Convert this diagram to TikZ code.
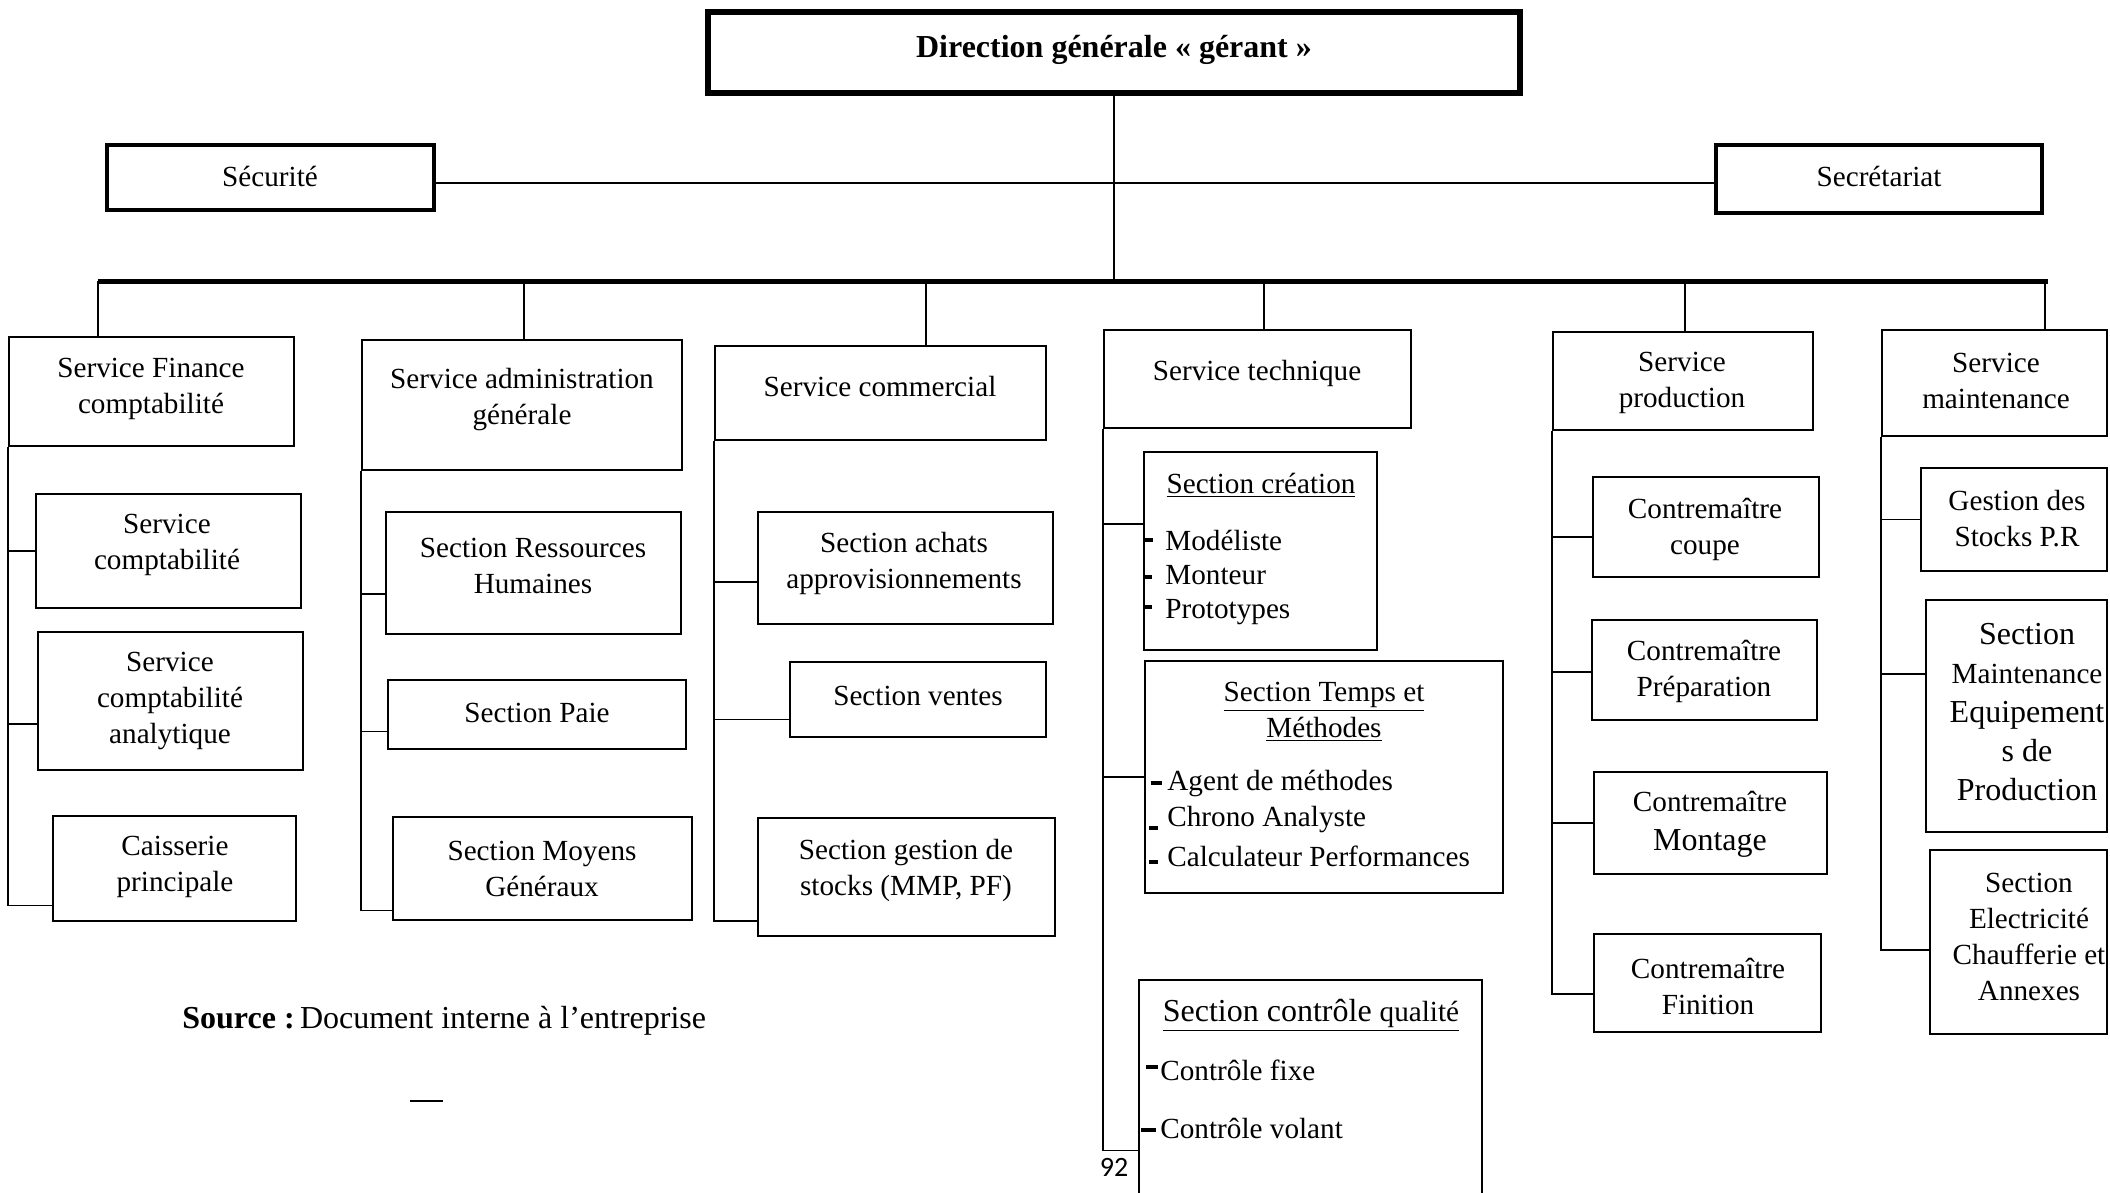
\documentclass[tikz,border=0pt]{standalone}
\usepackage{fontspec}
\setmainfont{Liberation Serif}
\newfontfamily\pagefont{Carlito}
\usetikzlibrary{fit}

% a framed unit given by its two corners
\newcommand\orgbox[6]{\node[#1, fit={(#3,#4) (#5,#6)}] (#2) {};}

\begin{document}
\begin{tikzpicture}[x=0.5pt,y=-0.5pt,
  box/.style={draw, line width=1.3pt, inner sep=0pt},
  midbox/.style={draw, line width=1.7pt, inner sep=0pt},
  headbox/.style={draw, line width=2.8pt, inner sep=0pt},
  txt/.style={inner sep=0pt, align=center, yshift=-2pt, font=\fontsize{14.6}{18}\selectfont},
  item/.style={inner sep=0pt, anchor=west, font=\fontsize{14.6}{18}\selectfont},
  conn/.style={line width=0.8pt},
  drop/.style={line width=0.6pt},
  bar/.style={line width=2.5pt},
  tick/.style={line width=1.6pt}]

\useasboundingbox (0,0) rectangle (2110,1193);
\clip (0,0) rectangle (2110,1193);
\fill[white] (0,0) rectangle (2110,1193);

% ---- top of the hierarchy
\orgbox{headbox}{dg}{708}{12}{1520}{93}
\node[txt, font=\bfseries\fontsize{16}{19}\selectfont] at (1114,46) {Direction générale « gérant »};

\orgbox{midbox}{sec}{107}{145}{434}{210}
\node[txt] at (270,172) {Sécurité};
\orgbox{midbox}{secr}{1716}{145}{2042}{213}
\node[txt] at (1879,172) {Secrétariat};

\coordinate (bl) at (98,281);
\coordinate (br) at (2048,281);
\coordinate (b1) at (98,281);
\coordinate (b2) at (524,281);
\coordinate (b3) at (926,281);
\coordinate (b4) at (1264,281);
\coordinate (b5) at (1685,281);
\coordinate (b6) at (2045,281);

\draw[line width=0.9pt] (dg.south) -- (dg.south |- bl);
\draw[line width=1pt] ([shift={(0,5)}]sec.east) -- ([shift={(0,5)}]sec.east -| secr.west);
\draw[bar] (bl) -- (br);

% ---- services
\orgbox{box}{fin}{9}{337}{294}{446}
\node[txt] at (151,385) {Service Finance\\comptabilité};
\orgbox{box}{adm}{362}{340}{682}{470}
\node[txt] at (522,396) {Service administration\\générale};
\orgbox{box}{com}{715}{346}{1046}{440}
\node[txt] at (880,383) {Service commercial};
\orgbox{box}{tec}{1104}{330}{1411}{428}
\node[txt] at (1257,369) {Service technique};
\orgbox{box}{pro}{1553}{332}{1813}{430}
\node[txt] at (1682,379) {Service\\production};
\orgbox{box}{mai}{1882}{330}{2107}{436}
\node[txt] at (1996,377) {Service\\maintenance};

\draw[drop] (b1) -- (b1 |- fin.north);
\draw[drop] (b2) -- (b2 |- adm.north);
\draw[drop] (b3) -- (b3 |- com.north);
\draw[drop] (b4) -- (b4 |- tec.north);
\draw[drop] (b5) -- (b5 |- pro.north);
\draw[drop] (b6) -- (b6 |- mai.north);

% ---- finance
\orgbox{box}{cpt}{36}{494}{301}{608}
\node[txt] at (167,541) {Service\\comptabilité};
\orgbox{box}{ana}{38}{632}{303}{770}
\node[txt] at (170,697) {Service\\comptabilité\\analytique};
\orgbox{box}{cai}{53}{816}{296}{921}
\node[txt] at (175,863) {Caisserie\\principale};
\draw[conn] (fin.south west) |- (cpt.west);
\draw[conn] (fin.south west) |- ([shift={(0,23)}]ana.west);
\draw[conn] (fin.south west) |- ([shift={(0,37)}]cai.west);

% ---- administration
\orgbox{box}{rh}{386}{512}{681}{634}
\node[txt] at (533,562) {Section Ressources\\Humaines};
\orgbox{box}{pai}{388}{680}{686}{749}
\node[txt] at (537,709) {Section Paie};
\orgbox{box}{moy}{393}{817}{692}{920}
\node[txt] at (542,865) {Section Moyens\\Généraux};
\draw[conn] (adm.south west) |- ([shift={(0,21)}]rh.west);
\draw[conn] (adm.south west) |- ([shift={(0,17)}]pai.west);
\draw[conn] (adm.south west) |- ([shift={(0,42)}]moy.west);

% ---- commercial
\orgbox{box}{ach}{758}{512}{1053}{624}
\node[txt] at (904,559) {Section achats\\approvisionnements};
\orgbox{box}{ven}{790}{662}{1046}{737}
\node[txt] at (918,692) {Section ventes};
\orgbox{box}{sto}{758}{818}{1055}{936}
\node[txt] at (906,866) {Section gestion de\\stocks (MMP, PF)};
\draw[conn] (com.south west) |- ([shift={(0,14)}]ach.west);
\draw[conn] (com.south west) |- ([shift={(0,20)}]ven.west);
\draw[conn] (com.south west) |- ([shift={(0,44)}]sto.west);

% ---- technique
\orgbox{box}{cre}{1144}{452}{1377}{650}
\node[txt] at (1261,481) {\underline{Section création}};
\node[item] at (1165,540) {Modéliste};
\node[item] at (1165,575) {Monteur};
\node[item] at (1165,612) {Prototypes};
\draw[tick] (1145,540) -- (1153,540);
\draw[tick] (1145,577) -- (1152,577);
\draw[tick] (1145,607) -- (1152,607);

\orgbox{box}{tem}{1145}{661}{1503}{893}
\node[txt] at (1324,708) {\underline{Section Temps et}\\\underline{Méthodes}};
\node[item] at (1167,783) {Agent de méthodes};
\node[item] at (1167,820) {Chrono Analyste};
\node[item] at (1167,856) {Calculateur Performances};
\draw[tick] (1151,783) -- (1162,783);
\draw[tick] (1149,828) -- (1158,828);
\draw[tick] (1149,862) -- (1158,862);

\orgbox{box}{ctl}{1139}{980}{1482}{1215}
\node[txt] at (1311,1011) {\underline{\fontsize{16}{19}\selectfont Section contrôle {\fontsize{14.6}{19}\selectfont qualité}}};
\node[item] at (1160,1070) {Contrôle fixe};
\node[item] at (1160,1128) {Contrôle volant};
\draw[tick] (1146,1067) -- (1158,1067);
\draw[tick] (1141,1130) -- (1156,1130);

\draw[conn] (tec.south west) |- ([shift={(0,-27)}]cre.west);
\draw[conn] (tec.south west) |- (tem.west);
\draw[conn] (tec.south west) |- ([shift={(0,53)}]ctl.west);

% ---- production
\orgbox{box}{cou}{1593}{477}{1819}{577}
\node[txt] at (1705,525) {Contremaître\\coupe};
\orgbox{box}{pre}{1592}{620}{1817}{720}
\node[txt] at (1704,667) {Contremaître\\Préparation};
\orgbox{box}{mon}{1594}{772}{1827}{874}
\node[txt, font=\fontsize{14.6}{19.5}\selectfont] at (1710,820) {Contremaître\\{\fontsize{16}{19.5}\selectfont Montage}};
\orgbox{box}{fnt}{1594}{934}{1821}{1032}
\node[txt] at (1708,982) {Contremaître\\Finition};
\draw[conn] (pro.south west) |- ([shift={(0,10)}]cou.west);
\draw[conn] (pro.south west) |- ([shift={(0,2)}]pre.west);
\draw[conn] (pro.south west) |- (mon.west);
\draw[conn] (pro.south west) |- ([shift={(0,11)}]fnt.west);

% ---- maintenance
\orgbox{box}{ges}{1921}{468}{2107}{571}
\node[txt] at (2017,515) {Gestion des\\Stocks P.R};
\orgbox{box}{smt}{1926}{600}{2107}{832}
\node[txt, font=\fontsize{16}{19.5}\selectfont] at (2027,708) {Section\\{\fontsize{14.6}{19.5}\selectfont Maintenance}\\Equipement\\s de\\Production};
\orgbox{box}{ele}{1930}{850}{2107}{1034}
\node[txt] at (2029,933) {Section\\Electricité\\Chaufferie et\\Annexes};
\draw[conn] (mai.south west) |- (ges.west);
\draw[conn] (mai.south west) |- ([shift={(0,-42)}]smt.west);
\draw[conn] (mai.south west) |- ([shift={(0,8)}]ele.west);

% ---- source note and page number
\node[item, font=\fontsize{16}{19}\selectfont] at (182,1021) {\textbf{Source :}\,Document interne à l’entreprise};
\draw[line width=0.7pt] (410,1101) -- (443,1101);
\node[inner sep=0pt, font=\pagefont\fontsize{14}{17}\selectfont] at (1114,1167) {92};

\end{tikzpicture}
\end{document}
